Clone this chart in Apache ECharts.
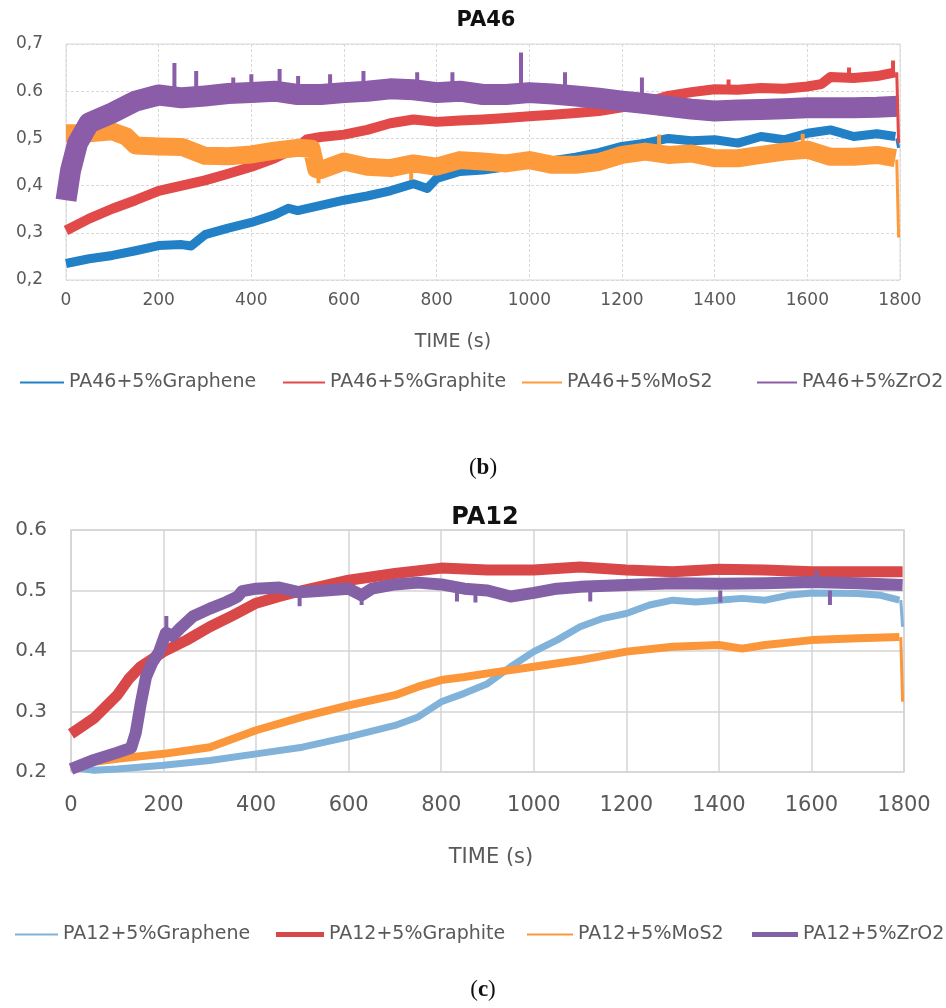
<!DOCTYPE html>
<html><head><meta charset="utf-8">
<script src="https://cdn.jsdelivr.net/npm/echarts@6/dist/echarts.min.js"></script>
<style>html,body{margin:0;padding:0;background:#fff}#c{width:946px;height:1008px}</style>
</head><body><div id="c"></div>
<script>
// ---------- data ----------
const yLabels46 = ['0,2','0,3','0,4','0,5','0.6','0,7'];
const yLabels12 = ['0.2','0.3','0.4','0.5','0.6'];
const names46 = ['PA46+5%Graphene','PA46+5%Graphite','PA46+5%MoS2','PA46+5%ZrO2'];
const names12 = ['PA12+5%Graphene','PA12+5%Graphite','PA12+5%MoS2','PA12+5%ZrO2'];

// PA46 [time, COF]
const graphene46 = [[0,0.235],[50,0.245],[100,0.252],[150,0.262],[200,0.273],[250,0.275],[270,0.272],[300,0.296],[350,0.31],[400,0.322],[450,0.338],[480,0.352],[500,0.347],[550,0.358],[600,0.369],[650,0.378],[700,0.389],[750,0.404],[780,0.394],[800,0.415],[850,0.43],[900,0.433],[950,0.44],[1000,0.448],[1050,0.453],[1100,0.46],[1150,0.47],[1200,0.483],[1250,0.49],[1300,0.5],[1350,0.495],[1400,0.497],[1450,0.49],[1500,0.504],[1550,0.497],[1600,0.511],[1650,0.518],[1700,0.504],[1750,0.51],[1790,0.504]];
const graphene46End = [[1793,0.5],[1797,0.48]];
const graphite46 = [[0,0.305],[50,0.33],[100,0.351],[150,0.369],[200,0.389],[250,0.4],[300,0.411],[350,0.425],[400,0.44],[450,0.458],[500,0.482],[520,0.498],[550,0.503],[600,0.508],[650,0.518],[700,0.532],[750,0.54],[800,0.535],[850,0.538],[900,0.54],[950,0.543],[1000,0.547],[1050,0.55],[1100,0.554],[1150,0.558],[1200,0.566],[1250,0.576],[1300,0.59],[1350,0.598],[1400,0.604],[1450,0.603],[1500,0.607],[1550,0.605],[1600,0.61],[1630,0.615],[1650,0.63],[1700,0.628],[1750,0.632],[1790,0.64]];
const graphite46End = [[1793,0.64],[1797,0.49]];
const graphite46Spikes = [[1785,0.63,0.665],[1430,0.6,0.625],[1690,0.62,0.65]];
const mos46 = [[0,0.511],[50,0.511],[100,0.515],[130,0.504],[150,0.485],[200,0.483],[250,0.482],[300,0.463],[350,0.462],[400,0.466],[450,0.474],[500,0.48],[530,0.478],[540,0.435],[550,0.433],[600,0.451],[650,0.44],[700,0.437],[750,0.447],[800,0.44],[850,0.454],[900,0.451],[950,0.447],[1000,0.454],[1050,0.444],[1100,0.444],[1150,0.45],[1200,0.465],[1250,0.472],[1300,0.465],[1350,0.468],[1400,0.458],[1450,0.458],[1500,0.465],[1550,0.472],[1600,0.476],[1650,0.461],[1700,0.461],[1750,0.465],[1790,0.458]];
const mos46End = [[1793,0.455],[1797,0.29]];
const mos46Spikes = [[545,0.43,0.405],[745,0.43,0.412],[1280,0.48,0.508],[1590,0.485,0.51]];
const zro46 = [[0,0.369],[10,0.433],[25,0.49],[50,0.533],[100,0.554],[150,0.579],[200,0.592],[250,0.586],[300,0.59],[350,0.595],[400,0.597],[450,0.6],[500,0.593],[550,0.593],[600,0.597],[650,0.6],[700,0.605],[750,0.603],[800,0.597],[850,0.6],[900,0.593],[950,0.593],[1000,0.597],[1050,0.594],[1100,0.59],[1150,0.585],[1200,0.579],[1250,0.574],[1300,0.568],[1350,0.562],[1400,0.558],[1450,0.56],[1500,0.561],[1550,0.563],[1600,0.565],[1650,0.565],[1700,0.565],[1750,0.566],[1797,0.568]];
const zro46Spikes = [[234,0.59,0.66],[281,0.59,0.643],[361,0.59,0.629],[400,0.59,0.636],[461,0.59,0.647],[501,0.59,0.632],[570,0.59,0.636],[642,0.59,0.643],[758,0.59,0.64],[834,0.59,0.64],[982,0.59,0.682],[1077,0.58,0.64],[1243,0.57,0.629]];

// PA12 [time, COF]
const graphene12 = [[0,0.208],[50,0.203],[100,0.205],[200,0.211],[300,0.219],[400,0.23],[500,0.241],[600,0.258],[700,0.277],[750,0.291],[800,0.316],[850,0.33],[900,0.346],[950,0.374],[1000,0.399],[1050,0.418],[1100,0.44],[1150,0.454],[1200,0.462],[1250,0.476],[1300,0.484],[1350,0.481],[1400,0.484],[1450,0.487],[1500,0.484],[1550,0.492],[1600,0.496],[1700,0.495],[1750,0.492],[1790,0.484]];
const graphene12End = [[1793,0.484],[1797,0.44]];
const graphite12 = [[0,0.263],[50,0.289],[100,0.327],[125,0.354],[150,0.374],[200,0.399],[250,0.418],[300,0.44],[350,0.459],[400,0.479],[450,0.49],[500,0.5],[600,0.517],[700,0.528],[800,0.537],[900,0.534],[1000,0.534],[1100,0.539],[1200,0.534],[1300,0.531],[1400,0.535],[1500,0.534],[1600,0.531],[1700,0.531],[1797,0.531]];
const mos12 = [[0,0.205],[50,0.217],[100,0.222],[200,0.23],[300,0.241],[400,0.269],[500,0.291],[600,0.31],[700,0.327],[750,0.341],[800,0.352],[850,0.357],[900,0.363],[1000,0.374],[1100,0.385],[1200,0.399],[1300,0.407],[1400,0.41],[1450,0.404],[1500,0.41],[1600,0.418],[1700,0.421],[1790,0.423]];
const mos12End = [[1793,0.423],[1797,0.316]];
const zro12 = [[0,0.205],[50,0.22],[100,0.232],[130,0.24],[140,0.265],[150,0.31],[162,0.357],[175,0.38],[190,0.398],[205,0.43],[220,0.425],[235,0.437],[263,0.457],[300,0.47],[336,0.481],[360,0.49],[370,0.499],[400,0.503],[450,0.505],[494,0.497],[550,0.5],[600,0.503],[628,0.492],[650,0.503],[700,0.51],[750,0.513],[800,0.51],[850,0.503],[900,0.5],[950,0.49],[1000,0.496],[1050,0.503],[1100,0.506],[1200,0.509],[1300,0.512],[1400,0.511],[1500,0.512],[1600,0.514],[1700,0.512],[1797,0.509]];
const zro12Spikes = [[206,0.43,0.458],[494,0.49,0.474],[628,0.49,0.476],[834,0.5,0.482],[874,0.5,0.48],[1122,0.5,0.482],[1403,0.5,0.48],[1640,0.5,0.476],[1611,0.52,0.534]];

// ---------- styles ----------
const FONT = 'DejaVu Sans';
const GRAY = '#595959';
const col46 = ['#2180c6','#e24a4a','#fd9a3c','#8b5ca8'];
const col12 = ['#80b2da','#d94848','#fb973a','#8461a7'];

function line(name, data, color, width, idx, z) {
  return {type:'line', name, data, xAxisIndex:idx, yAxisIndex:idx, symbol:'none', showSymbol:false,
    lineStyle:{color, width, join:'round', cap:'butt'}, itemStyle:{color}, silent:true,
    emphasis:{disabled:true}, animation:false, z: z||2, clip:true};
}
function spikes(arr) {
  const out = [];
  arr.forEach(s => { out.push([s[0], s[1]], [s[0], s[2]], [s[0], '-']); });
  return out;
}

const series = [
  line(names46[0], graphene46, col46[0], 9, 0),
  line(names46[1], graphite46, col46[1], 10, 0),
  line(names46[2], mos46, col46[2], 18, 0),
  line(names46[3], zro46, col46[3], 21, 0),
  line(names46[0], graphene46End, col46[0], 3, 0, 3),
  line(names46[1], graphite46End, col46[1], 3, 0, 3),
  line(names46[1], spikes(graphite46Spikes), col46[1], 4, 0, 3),
  line(names46[2], mos46End, col46[2], 3, 0, 3),
  line(names46[2], spikes(mos46Spikes), col46[2], 4, 0, 3),
  line(names46[3], spikes(zro46Spikes), col46[3], 4, 0, 3),

  line(names12[0], graphene12, col12[0], 7, 1),
  line(names12[1], graphite12, col12[1], 11, 1),
  line(names12[2], mos12, col12[2], 8, 1),
  line(names12[3], zro12, col12[3], 12, 1),
  line(names12[0], graphene12End, col12[0], 3, 1, 3),
  line(names12[2], mos12End, col12[2], 3, 1, 3),
  line(names12[3], spikes(zro12Spikes), col12[3], 4, 1, 3)
];

const leg46Pos = [[20,44,2],[283,42,2],[522,40,2],[757,40,2]];
const leg12Pos = [[15,43,2],[276,48,5],[527,46,2],[752,46,5]];
const legends = [];
function addLegends(names, pos, top, cols) {
  names.forEach((n,i) => {
    const ist = {color:cols[i], borderColor:'rgba(0,0,0,0)', borderWidth:0};
    legends.push({data:[{name:n, icon:'rect', itemStyle:ist}],
      left:pos[i][0], top, padding:0, itemWidth:pos[i][1], itemHeight:pos[i][2], icon:'rect', selectedMode:false,
      itemStyle:ist, lineStyle:{width:0, opacity:0},
      textStyle:{fontFamily:FONT, fontSize:19, color:GRAY}});
  });
}
addLegends(names46, leg46Pos, 373, col46);
addLegends(names12, leg12Pos, 925, col12);

function txt(text, x, y, size, weight, family, color) {
  return {type:'text', x, y, silent:true, style:{text, fill:color||GRAY, font:(weight||'normal')+' '+size+'px "'+(family||FONT)+'"', textAlign:'center', textVerticalAlign:'middle'}};
}
function label(letter, x, y) {
  return {type:'text', x, y, silent:true, style:{text:'{p|(}{b|'+letter+'}{p|)}',
    textAlign:'center', textVerticalAlign:'middle',
    rich:{p:{fontFamily:'Liberation Serif', fontSize:23, fill:'#111', color:'#111'},
          b:{fontFamily:'Liberation Serif', fontSize:23, fontWeight:'bold', fill:'#111', color:'#111'}}}};
}

const option = {
  backgroundColor:'#ffffff',
  animation:false,
  grid:[
    {left:66, top:44, width:834, height:236, show:true, borderColor:'#d9d9d9', borderWidth:1, containLabel:false},
    {left:71, top:530, width:833, height:242, show:true, borderColor:'#d4d4d4', borderWidth:1.5, containLabel:false}
  ],
  xAxis:[
    {type:'value', gridIndex:0, min:0, max:1800, interval:200, axisLine:{show:false}, axisTick:{show:false},
     splitLine:{show:true, lineStyle:{color:'#d9d9d9', type:[3,2], width:1}},
     axisLabel:{color:GRAY, fontFamily:FONT, fontSize:17, margin:12, formatter: v => String(v)}},
    {type:'value', gridIndex:1, min:0, max:1800, interval:200, axisLine:{show:false}, axisTick:{show:false},
     splitLine:{show:true, lineStyle:{color:'#d4d4d4', width:1.5}},
     axisLabel:{color:GRAY, fontFamily:FONT, fontSize:21, margin:23, formatter: v => String(v)}}
  ],
  yAxis:[
    {type:'value', gridIndex:0, min:0.2, max:0.7, interval:0.1, axisLine:{show:false}, axisTick:{show:false},
     splitLine:{show:true, lineStyle:{color:'#d9d9d9', type:[3,2], width:1}},
     axisLabel:{color:GRAY, fontFamily:FONT, fontSize:17, margin:23,
       formatter: v => yLabels46[Math.round((v-0.2)*10)]}},
    {type:'value', gridIndex:1, min:0.2, max:0.6, interval:0.1, axisLine:{show:false}, axisTick:{show:false},
     splitLine:{show:true, lineStyle:{color:'#d4d4d4', width:1.5}},
     axisLabel:{color:GRAY, fontFamily:FONT, fontSize:20, margin:24,
       formatter: v => yLabels12[Math.round((v-0.2)*10)]}}
  ],
  legend: legends,
  graphic:[
    txt('PA46', 486, 21, 21, 'bold', FONT, '#111'),
    txt('PA12', 485, 518, 24, 'bold', FONT, '#111'),
    txt('TIME (s)', 453, 342, 19, 'normal'),
    txt('TIME (s)', 491, 858, 21, 'normal'),
    label('b', 483, 468),
    label('c', 483, 990)
  ],
  series
};
const chart = echarts.init(document.getElementById('c'), null, {renderer:'canvas'});
chart.setOption(option);
</script></body></html>
